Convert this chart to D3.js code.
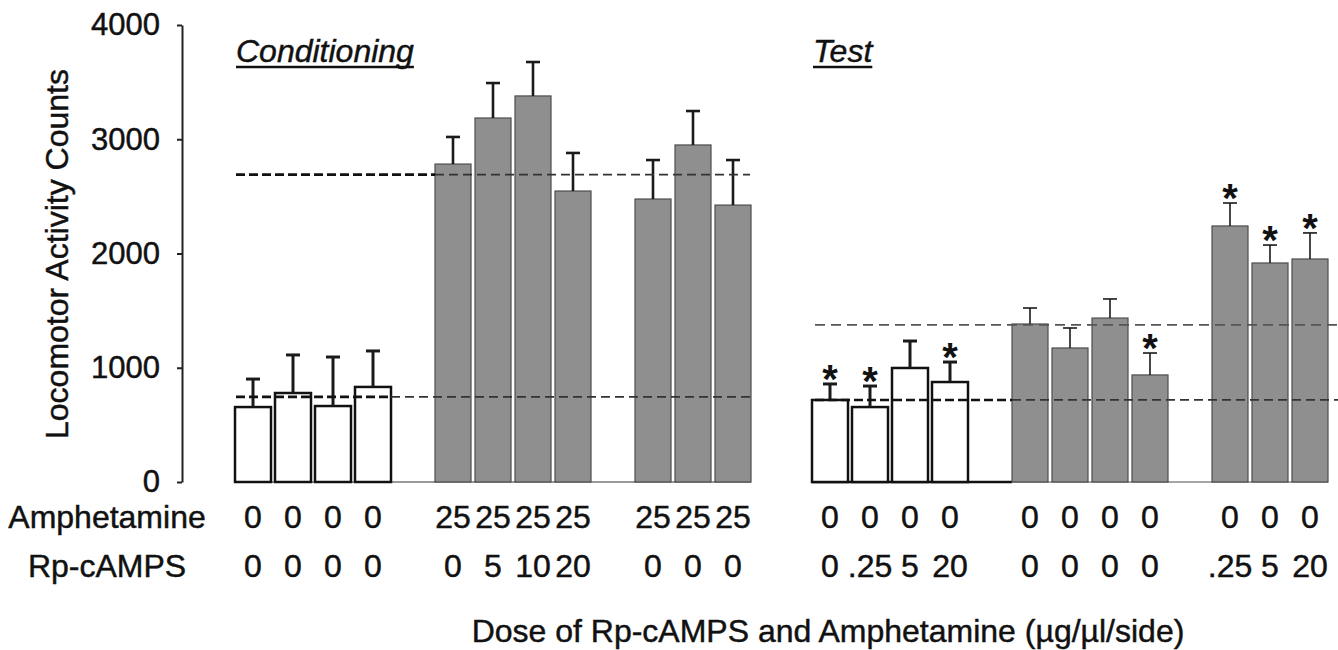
<!DOCTYPE html>
<html><head><meta charset="utf-8">
<script src="https://cdn.jsdelivr.net/npm/d3@7"></script>
<style>
body{margin:0;background:#fff}
svg{display:block}
text{font-family:"Liberation Sans",Arial,Helvetica,sans-serif;fill:#111;stroke:#111;stroke-width:0.45px}
</style>
</head><body>
<svg id="c" width="1338" height="650"></svg>
<script>
// ---------- data ----------
const yTicks = [0, 1000, 2000, 3000, 4000];
const rowNames = ["Amphetamine", "Rp-cAMPS"];
const panelTitles = ["Conditioning", "Test"];
const xTitle = "Dose of Rp-cAMPS and Amphetamine (\u00B5g/\u00B5l/side)";
const yTitle = "Locomotor Activity Counts";

// Conditioning
const condGroup = [0,0,0,0,1,1,1,1,2,2,2];
const condAmphetamine = ["0","0","0","0","25","25","25","25","25","25","25"];
const condRp = ["0","0","0","0","0","5","10","20","0","0","0"];
const condMean = [656, 779, 665, 832, 2783, 3186, 3379, 2547, 2477, 2950, 2424];
const condSem  = [245, 333, 429, 315, 237, 306, 297, 333, 341, 297, 394];
const condSig  = [0,0,0,0,0,0,0,0,0,0,0];
const condRef  = [2690, 745];

// Test
const testGroup = [0,0,0,0,1,1,1,1,2,2,2];
const testAmphetamine = ["0","0","0","0","0","0","0","0","0","0","0"];
const testRp = ["0",".25","5","20","0","0","0","0",".25","5","20"];
const testMean = [718, 656, 998, 875, 1383, 1173, 1435, 937, 2241, 1917, 1952];
const testSem  = [140, 184, 236, 175, 140, 175, 167, 192, 201, 157, 228];
const testSig  = [1,1,0,1,0,0,0,1,1,1,1];
const testRef  = [1375, 718];

// ---------- drawing ----------
const svg = d3.select("#c");
const y = d3.scaleLinear().domain([0, 4000]).range([482, 25]);
const ROW1 = 528, ROW2 = 577, LBL = 32;

// y axis
const yAxis = d3.axisLeft(y).tickValues(yTicks).tickFormat(d3.format("d"))
  .tickSizeInner(5).tickSizeOuter(0).tickPadding(17);
const ga = svg.append("g").attr("transform", "translate(182,0)").call(yAxis);
ga.select(".domain").attr("stroke", "#222").attr("stroke-width", 2);
ga.selectAll(".tick line").attr("stroke", "#222").attr("stroke-width", 2);
ga.selectAll(".tick text").attr("font-size", 31).attr("fill", "#111")
  .attr("font-family", "Liberation Sans, Arial, sans-serif");

svg.append("text").attr("transform", "translate(68,254) rotate(-90)")
  .attr("text-anchor", "middle").attr("font-size", 32).text(yTitle);

// row names
svg.append("text").attr("x", 107).attr("y", ROW1).attr("text-anchor", "middle")
  .attr("font-size", LBL).text(rowNames[0]);
svg.append("text").attr("x", 107).attr("y", ROW2).attr("text-anchor", "middle")
  .attr("font-size", LBL).text(rowNames[1]);

// x title
svg.append("text").attr("x", 828).attr("y", 642).attr("text-anchor", "middle")
  .attr("font-size", 32).text(xTitle);

function drawPanel(p) {
  const x = d3.scaleBand().domain(d3.range(13)).range(p.range).paddingInner(0.1).paddingOuter(0);
  const slot = i => i + p.group[i];
  const idx = d3.range(p.mean.length);
  const g = svg.append("g");
  const bw = x.bandwidth();
  const firstGray = x(slot(p.group.indexOf(1)));
  const endWhite = x(slot(p.group.lastIndexOf(0))) + bw;
  const x0 = p.range[0], x1 = p.range[1];

  // baseline
  if (p.thickBase) {
    g.append("line").attr("x1", x0).attr("x2", firstGray).attr("y1", y(0)).attr("y2", y(0))
      .attr("stroke", "#111").attr("stroke-width", 2.5);
    g.append("line").attr("x1", firstGray).attr("x2", x1).attr("y1", y(0)).attr("y2", y(0))
      .attr("stroke", "#888").attr("stroke-width", 1.3);
  } else {
    g.append("line").attr("x1", x0).attr("x2", x1).attr("y1", y(0)).attr("y2", y(0))
      .attr("stroke", "#777").attr("stroke-width", 1.3);
  }

  // bars
  g.selectAll("rect.bar").data(idx).join("rect").attr("class", "bar")
    .attr("x", i => x(slot(i))).attr("width", bw)
    .attr("y", i => y(p.mean[i])).attr("height", i => y(0) - y(p.mean[i]))
    .attr("fill", i => p.group[i] === 0 ? "#fff" : "#8f8f8f")
    .attr("stroke", i => p.group[i] === 0 ? "#111" : "#4d4d4d")
    .attr("stroke-width", i => p.group[i] === 0 ? 2.5 : 1.2);

  // error bars
  const ew = i => p.group[i] === 0 ? 3 : p.errW;
  g.selectAll("line.ev").data(idx).join("line").attr("class", "ev")
    .attr("x1", i => x(slot(i)) + bw / 2).attr("x2", i => x(slot(i)) + bw / 2)
    .attr("y1", i => y(p.mean[i])).attr("y2", i => y(p.mean[i] + p.sem[i]))
    .attr("stroke", "#1a1a1a").attr("stroke-width", ew);
  g.selectAll("line.ec").data(idx).join("line").attr("class", "ec")
    .attr("x1", i => x(slot(i)) + bw / 2 - 7).attr("x2", i => x(slot(i)) + bw / 2 + 7)
    .attr("y1", i => y(p.mean[i] + p.sem[i])).attr("y2", i => y(p.mean[i] + p.sem[i]))
    .attr("stroke", "#1a1a1a").attr("stroke-width", ew);

  // stars
  g.selectAll("text.star").data(idx.filter(i => p.sig[i])).join("text").attr("class", "star")
    .attr("x", i => x(slot(i)) + bw / 2).attr("y", i => y(p.mean[i] + p.sem[i]) + 9)
    .attr("text-anchor", "middle").attr("font-size", 40).attr("font-weight", "bold")
    .style("stroke-width", "0px").text("*");

  // reference dashed lines
  p.ref.forEach((v, k) => {
    const split = p.splits[k];
    if (split !== null) {
      const sx = split === "white" ? endWhite : firstGray;
      g.append("line").attr("x1", p.refStart).attr("x2", sx).attr("y1", y(v)).attr("y2", y(v))
        .attr("stroke", "#111").attr("stroke-width", 2.6).attr("stroke-dasharray", "9,4");
      g.append("line").attr("x1", sx).attr("x2", p.refEnd).attr("y1", y(v)).attr("y2", y(v))
        .attr("stroke", "#333").attr("stroke-width", 1.8).attr("stroke-dasharray", "9,5");
    } else {
      g.append("line").attr("x1", p.refStart).attr("x2", p.refEnd).attr("y1", y(v)).attr("y2", y(v))
        .attr("stroke", "#555").attr("stroke-width", 1.6).attr("stroke-dasharray", "10,6");
    }
  });

  // row labels
  g.selectAll("text.amph").data(idx).join("text").attr("class", "amph")
    .attr("x", i => x(slot(i)) + bw / 2).attr("y", ROW1).attr("text-anchor", "middle")
    .attr("font-size", LBL).text(i => p.amph[i]);
  g.selectAll("text.rp").data(idx).join("text").attr("class", "rp")
    .attr("x", i => x(slot(i)) + bw / 2).attr("y", ROW2).attr("text-anchor", "middle")
    .attr("font-size", LBL).text(i => p.rp[i]);

  // title
  const t = g.append("text").attr("x", p.range[0] + 1).attr("y", 62).attr("font-size", 32)
    .attr("font-style", "italic").text(p.title);
  const tl = t.node().getComputedTextLength();
  g.append("line").attr("x1", p.range[0] + 1).attr("x2", p.range[0] + 1 + tl)
    .attr("y1", 67).attr("y2", 67).attr("stroke", "#111").attr("stroke-width", 2.5);
}

drawPanel({range: [235, 751], group: condGroup, mean: condMean, sem: condSem, sig: condSig,
  amph: condAmphetamine, rp: condRp, ref: condRef, splits: ["gray", "white"],
  refStart: 236, refEnd: 750, thickBase: false, errW: 2.6, title: panelTitles[0]});
drawPanel({range: [812, 1328], group: testGroup, mean: testMean, sem: testSem, sig: testSig,
  amph: testAmphetamine, rp: testRp, ref: testRef, splits: [null, "gray"],
  refStart: 815, refEnd: 1338, thickBase: true, errW: 1.6, title: panelTitles[1]});
</script>
</body></html>
